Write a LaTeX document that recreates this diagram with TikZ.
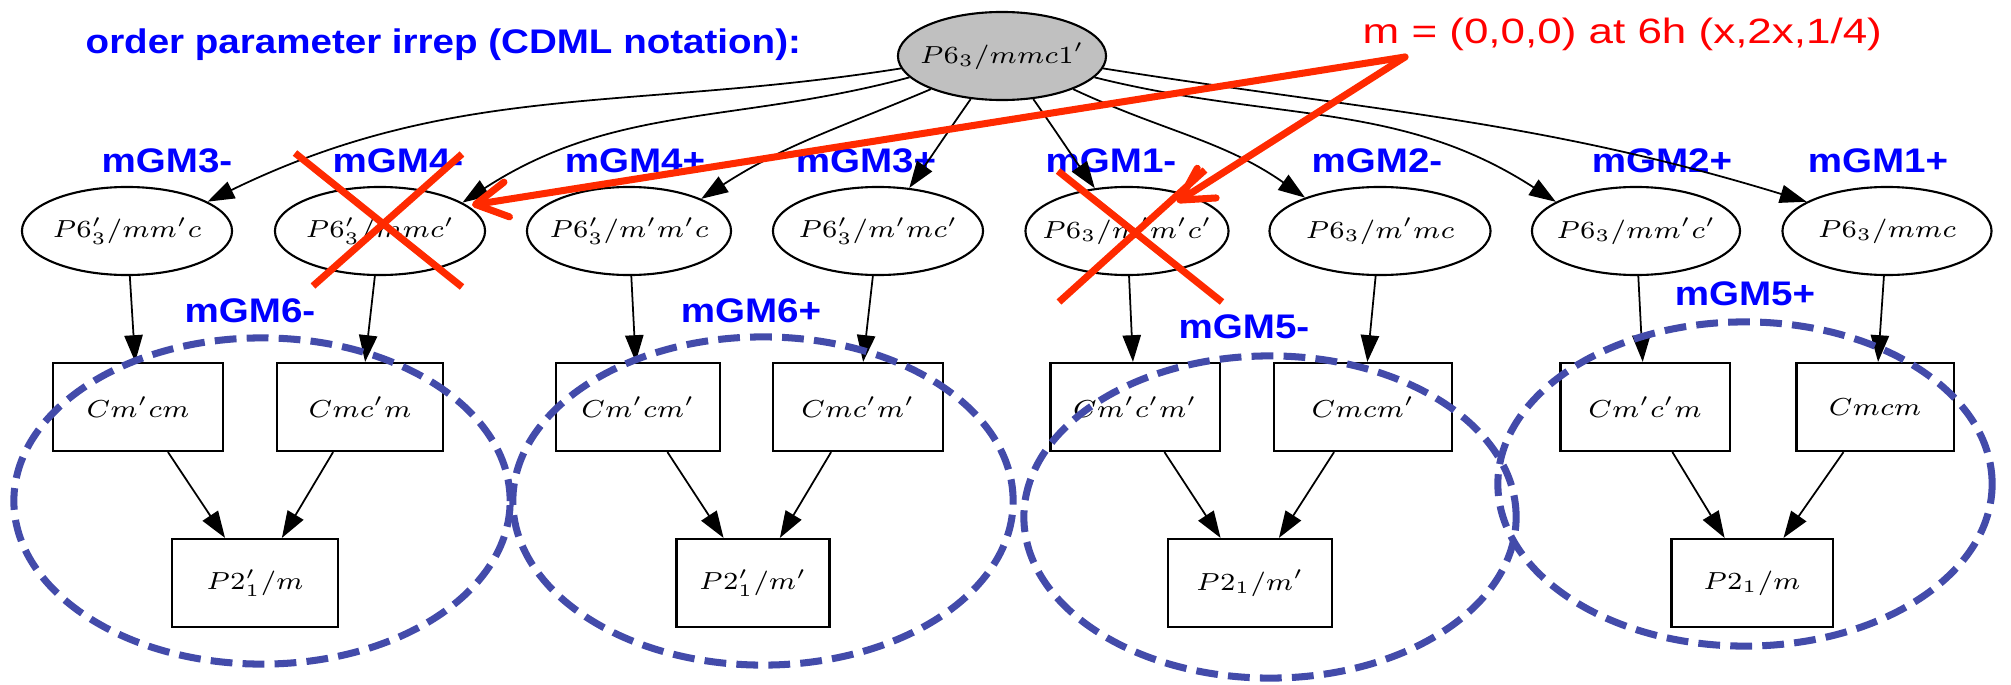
\documentclass[tikz,border=0pt]{standalone}
\usepackage{fontspec}
\usepackage{graphicx}
\usetikzlibrary{shapes.geometric,arrows.meta}
\newfontfamily\lblfont[FakeStretch=1.13]{Liberation Sans}
\newfontfamily\redfont[FakeStretch=1.25]{Liberation Sans}
\definecolor{lblblue}{RGB}{0,0,255}
\definecolor{xred}{RGB}{255,42,0}
\definecolor{txtred}{RGB}{255,0,0}
\definecolor{grpblue}{RGB}{67,75,170}
\definecolor{rootgray}{RGB}{192,192,192}
\newcommand{\sg}[1]{\makebox[0pt]{\scalebox{1.1}[1]{\fontsize{7.1}{8.5}\selectfont$#1$}}}
\begin{document}
\begin{tikzpicture}[x=0.01cm,y=0.01cm,
  irrep/.style={font=\lblfont\bfseries\fontsize{9.7}{11}\selectfont, text=lblblue, anchor=base, inner sep=0pt},
  ell/.style={ellipse, draw, line width=0.6pt, minimum height=0.88cm, inner sep=0pt},
  gbox/.style={rectangle, draw, line width=0.6pt, minimum height=0.88cm, inner sep=0pt},
  conn/.style={line width=0.5pt, -{Triangle[length=7.6pt,width=5.2pt]}},
  grp/.style={draw=grpblue, line width=2pt, dash pattern=on 6.2pt off 2.9pt},
  xmark/.style={draw=xred, line width=2pt},
  redarrow/.style={draw=xred, line width=2pt, line cap=round, -{Straight Barb[length=9pt,width=10pt,round]}},
]
\useasboundingbox (0,0) rectangle (2011,684);

% labels
\node[irrep, anchor=base west] (title) at (85,630) {order parameter irrep (CDML notation):};
\node[font=\redfont\fontsize{10}{12}\selectfont, text=txtred, anchor=base west, inner sep=0pt] (mtext) at (1362,641) {m = (0,0,0) at 6h (x,2x,1/4)};
\node[irrep] (l1) at (167,512) {mGM3-};
\node[irrep] (l2) at (398,512) {mGM4-};
\node[irrep] (l3) at (635,512) {mGM4+};
\node[irrep] (l4) at (866,512) {mGM3+};
\node[irrep] (l5) at (1111,512) {mGM1-};
\node[irrep] (l6) at (1377,512) {mGM2-};
\node[irrep] (l7) at (1662,512) {mGM2+};
\node[irrep] (l8) at (1878,512) {mGM1+};
\node[irrep] (l9) at (250,362) {mGM6-};
\node[irrep] (l10) at (751,362) {mGM6+};
\node[irrep] (l11) at (1244,346) {mGM5-};
\node[irrep] (l12) at (1745,379) {mGM5+};

% graph nodes
\node[ell, fill=rootgray, minimum width=2.08cm] (root) at (1002,628) {\sg{P6_3/mmc1'}};
\node[ell, minimum width=2.10cm] (e1) at (127,453) {\sg{P6'_3/mm'c}};
\node[ell, minimum width=2.10cm] (e2) at (380,453) {\sg{P6'_3/mmc'}};
\node[ell, minimum width=2.04cm] (e3) at (629,453) {\sg{P6'_3/m'm'c}};
\node[ell, minimum width=2.10cm] (e4) at (878,453) {\sg{P6'_3/m'mc'}};
\node[ell, minimum width=2.03cm] (e5) at (1127,453) {\sg{P6_3/m'm'c'}};
\node[ell, minimum width=2.21cm] (e6) at (1380,453) {\sg{P6_3/m'mc}};
\node[ell, minimum width=2.08cm] (e7) at (1636,453) {\sg{P6_3/mm'c'}};
\node[ell, minimum width=2.09cm] (e8) at (1887,453) {\sg{P6_3/mmc}};

\node[gbox, minimum width=1.70cm] (b1) at (138,277) {\sg{Cm'cm}};
\node[gbox, minimum width=1.66cm] (b2) at (360,277) {\sg{Cmc'm}};
\node[gbox, minimum width=1.64cm] (b3) at (638,277) {\sg{Cm'cm'}};
\node[gbox, minimum width=1.70cm] (b4) at (858,277) {\sg{Cmc'm'}};
\node[gbox, minimum width=1.69cm] (b5) at (1135,277) {\sg{Cm'c'm'}};
\node[gbox, minimum width=1.78cm] (b6) at (1363,277) {\sg{Cmcm'}};
\node[gbox, minimum width=1.69cm] (b7) at (1645,277) {\sg{Cm'c'm}};
\node[gbox, minimum width=1.57cm] (b8) at (1875,277) {\sg{Cmcm}};

\node[gbox, minimum width=1.66cm] (p1) at (255,101) {\sg{P2'_1/m}};
\node[gbox, minimum width=1.53cm] (p2) at (753,101) {\sg{P2'_1/m'}};
\node[gbox, minimum width=1.64cm] (p3) at (1250,101) {\sg{P2_1/m'}};
\node[gbox, minimum width=1.61cm] (p4) at (1752,101) {\sg{P2_1/m}};

% edges from root
\draw[conn] (root.187) to[out=189,in=26] (e1.20);
\draw[conn] (root.193) to[out=195,in=33] (e2.19);
\draw[conn] (root.205) to[out=203,in=33] (e3.24);
\draw[conn] (root.234) to[out=235,in=55] (e4.54);
\draw[conn] (root.306) to[out=305,in=125] (e5.127);
\draw[conn] (root.335) to[out=335,in=145] (e6.156);
\draw[conn] (root.347) to[out=346,in=147] (e7.160);
\draw[conn] (root.353) to[out=351,in=163] (e8.160);

% ellipse to box
\foreach \i in {1,...,8} { \draw[conn] (e\i) -- (b\i); }

% box to bottom
\draw[conn] (b1) -- (p1);
\draw[conn] (b2) -- (p1);
\draw[conn] (b3) -- (p2);
\draw[conn] (b4) -- (p2);
\draw[conn] (b5) -- (p3);
\draw[conn] (b6) -- (p3);
\draw[conn] (b7) -- (p4);
\draw[conn] (b8) -- (p4);

% dashed groups
\draw[grp] (262,183) ellipse [x radius=2.48cm, y radius=1.63cm];
\draw[grp] (763,183) ellipse [x radius=2.50cm, y radius=1.64cm];
\draw[grp] (1270,167) ellipse [x radius=2.46cm, y radius=1.61cm];
\draw[grp] (1745,200) ellipse [x radius=2.47cm, y radius=1.62cm];

% red crosses
\draw[xmark] (295,531) -- (462,397);
\draw[xmark] (462,530) -- (313,398);
\draw[xmark] (1058,513) -- (1222,382);
\draw[xmark] (1059,382) -- (1205,514);

% red arrows
\coordinate (apex) at (1405,627);
\coordinate (tipA) at (472,479);
\coordinate (tipB) at (1177,482);
\draw[redarrow] (apex) -- (tipA);
\draw[redarrow] (apex) -- (tipB);
\end{tikzpicture}
\end{document}
